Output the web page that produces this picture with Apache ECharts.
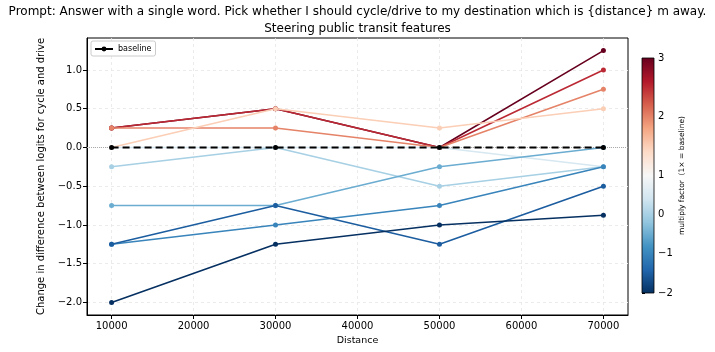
<!DOCTYPE html>
<html>
<head>
<meta charset="utf-8">
<script src="https://cdn.jsdelivr.net/npm/echarts@6/dist/echarts.min.js"></script>
<style>html,body{margin:0;padding:0;background:#fff}#c{width:715px;height:352px}</style>
</head>
<body>
<div id="c"></div>
<script>
// ---- data ----
const distances = [10000, 30000, 50000, 70000];
const xTicks = [10000, 20000, 30000, 40000, 50000, 60000, 70000];
const yTicks = [-2.0, -1.5, -1.0, -0.5, 0.0, 0.5, 1.0];
const cbarTicks = [-2, -1, 0, 1, 2, 3];
// series values, keyed by multiply factor (drawn from highest to lowest)
const factors = [3, 2.5, 2, 1.5, 0.5, 0, -0.5, -1, -1.5, -2];
const f3    = [0.25, 0.5, 0.0, 1.25];
const f2_5  = [0.25, 0.5, 0.0, 1.0];
const f2    = [0.25, 0.25, 0.0, 0.75];
const f1_5  = [0.0, 0.5, 0.25, 0.5];
const f0_5  = [0.0, 0.0, 0.0, -0.25];
const f0    = [-0.25, 0.0, -0.5, -0.25];
const fm0_5 = [-0.75, -0.75, -0.25, 0.0];
const fm1   = [-1.25, -1.0, -0.75, -0.25];
const fm1_5 = [-1.25, -0.75, -1.25, -0.5];
const fm2   = [-2.0, -1.25, -1.0, -0.875];
const baseline = [0.0, 0.0, 0.0, 0.0];
const seriesValues = [f3, f2_5, f2, f1_5, f0_5, f0, fm0_5, fm1, fm1_5, fm2];

// ---- colormap (RdBu_r) with two-slope norm ----
const rdbu_r = ['#053061','#2166ac','#4393c3','#92c5de','#d1e5f0','#f7f7f7','#fddbc7','#f4a582','#d6604d','#b2182b','#67001f'];
const vmin = -2, vcenter = 1, vmax = 3;
function norm(v){ return v < vcenter ? 0.5*(v - vmin)/(vcenter - vmin) : 0.5 + 0.5*(v - vcenter)/(vmax - vcenter); }
function denorm(t){ return t < 0.5 ? vmin + t/0.5*(vcenter - vmin) : vcenter + (t-0.5)/0.5*(vmax - vcenter); }
function hex2rgb(h){ return [parseInt(h.substr(1,2),16),parseInt(h.substr(3,2),16),parseInt(h.substr(5,2),16)]; }
function cmap(t){
  t = Math.max(0, Math.min(1, t));
  const p = t*(rdbu_r.length-1), i = Math.min(Math.floor(p), rdbu_r.length-2), f = p - i;
  const a = hex2rgb(rdbu_r[i]), b = hex2rgb(rdbu_r[i+1]);
  const c = a.map((x,k)=>Math.round(x + (b[k]-x)*f));
  return 'rgb(' + c.join(',') + ')';
}
const minus = s => String(s).replace('-', '\u2212');
const FONT = 'DejaVu Sans';

const lineSeries = factors.map((fac, i) => ({
  type: 'line',
  name: 'factor ' + fac,
  xAxisIndex: 0, yAxisIndex: 0,
  data: distances.map((d, j) => [d, seriesValues[i][j]]),
  symbol: 'circle', symbolSize: 5,
  lineStyle: { color: cmap(norm(fac)), width: 1.6 },
  itemStyle: { color: cmap(norm(fac)) },
  emphasis: { disabled: true },
  animation: false
}));

const baselineSeries = {
  type: 'line',
  name: 'baseline',
  xAxisIndex: 0, yAxisIndex: 0,
  data: distances.map((d, j) => [d, baseline[j]]),
  symbol: 'circle', symbolSize: 5,
  lineStyle: { color: '#000', width: 2, type: [7, 4] },
  itemStyle: { color: '#000' },
  z: 5,
  markLine: {
    silent: true, symbol: 'none', label: { show: false },
    lineStyle: { color: '#aaaaaa', type: 'dotted', width: 1 },
    data: [{ yAxis: 0 }],
    z: 1
  },
  animation: false
};

const stops = rdbu_r.map((c, i) => ({ offset: 1 - i/(rdbu_r.length-1), color: c }));

const cbarSeries = {
  type: 'custom',
  xAxisIndex: 1, yAxisIndex: 1,
  data: [[0, 0]],
  silent: true,
  renderItem: function (params, api) {
    const p0 = api.coord([0, 1]);
    const p1 = api.coord([1, 0]);
    return {
      type: 'rect',
      shape: { x: p0[0], y: p0[1], width: p1[0]-p0[0], height: p1[1]-p0[1] },
      style: { fill: new echarts.graphic.LinearGradient(0, 0, 0, 1, stops), stroke: '#000', lineWidth: 0.8 }
    };
  },
  animation: false
};

const chart = echarts.init(document.getElementById('c'), null, { renderer: 'canvas' });
chart.setOption({
  backgroundColor: '#fff',
  animation: false,
  textStyle: { fontFamily: FONT },
  title: {
    text: 'Prompt: Answer with a single word. Pick whether I should cycle/drive to my destination which is {distance} m away.\nSteering public transit features',
    left: 'center', top: 3, padding: 0,
    textStyle: { fontFamily: FONT, fontSize: 12, fontWeight: 'normal', color: '#000', lineHeight: 17 }
  },
  legend: {
    data: ['baseline'],
    left: 91, top: 41,
    orient: 'vertical',
    backgroundColor: '#fff', borderColor: '#cccccc', borderWidth: 1, borderRadius: 2,
    padding: [4, 4, 3, 3],
    itemWidth: 18, itemHeight: 6, itemGap: 2,
    textStyle: { fontFamily: FONT, fontSize: 8, color: '#000' }
  },
  grid: [
    { left: 87, right: 87, top: 38, bottom: 37, show: true, borderColor: '#000', borderWidth: 1, backgroundColor: 'transparent' },
    { left: 642, width: 12, top: 58, height: 235 }
  ],
  xAxis: [
    {
      type: 'value', gridIndex: 0, min: 7000, max: 73000,
      name: 'Distance', nameLocation: 'middle', nameGap: 20,
      nameTextStyle: { fontFamily: FONT, fontSize: 9.5, color: '#000' },
      axisLine: { show: true, onZero: false, lineStyle: { color: '#000', width: 1 } },
      axisTick: { show: true, inside: false, length: 4, lineStyle: { color: '#000' }, customValues: xTicks },
      axisLabel: { fontFamily: FONT, fontSize: 10, color: '#000', margin: 6, customValues: xTicks, formatter: v => String(v) },
      splitLine: { show: true, lineStyle: { color: '#e6e6e6', type: [3, 3], width: 0.8 } }
    },
    { type: 'value', gridIndex: 1, min: 0, max: 1, show: false }
  ],
  yAxis: [
    {
      type: 'value', gridIndex: 0, min: -2.1625, max: 1.4125,
      name: 'Change in difference between logits for cycle and drive',
      nameLocation: 'middle', nameGap: 37, nameRotate: 90,
      nameTextStyle: { fontFamily: FONT, fontSize: 10, color: '#000' },
      axisLine: { show: true, onZero: false, lineStyle: { color: '#000', width: 1 } },
      axisTick: { show: true, inside: false, length: 4, lineStyle: { color: '#000' }, customValues: yTicks },
      axisLabel: { fontFamily: FONT, fontSize: 10, color: '#000', margin: 5, customValues: yTicks, formatter: v => minus(v.toFixed(1)) },
      splitLine: { show: true, lineStyle: { color: '#e6e6e6', type: [3, 3], width: 0.8 } }
    },
    {
      type: 'value', gridIndex: 1, min: 0, max: 1, position: 'right',
      name: 'multiply factor  (1\u00d7 = baseline)', nameLocation: 'middle', nameGap: 24, nameRotate: 90,
      nameTextStyle: { fontFamily: FONT, fontSize: 7.5, color: '#000' },
      axisLine: { show: false },
      axisTick: { show: true, inside: false, length: 3, lineStyle: { color: '#000' }, customValues: cbarTicks.map(norm) },
      axisLabel: { fontFamily: FONT, fontSize: 10, color: '#000', margin: 4, customValues: cbarTicks.map(norm), formatter: v => minus(Math.round(denorm(v))) },
      splitLine: { show: false }
    }
  ],
  series: [...lineSeries, baselineSeries, cbarSeries]
});
</script>
</body>
</html>
